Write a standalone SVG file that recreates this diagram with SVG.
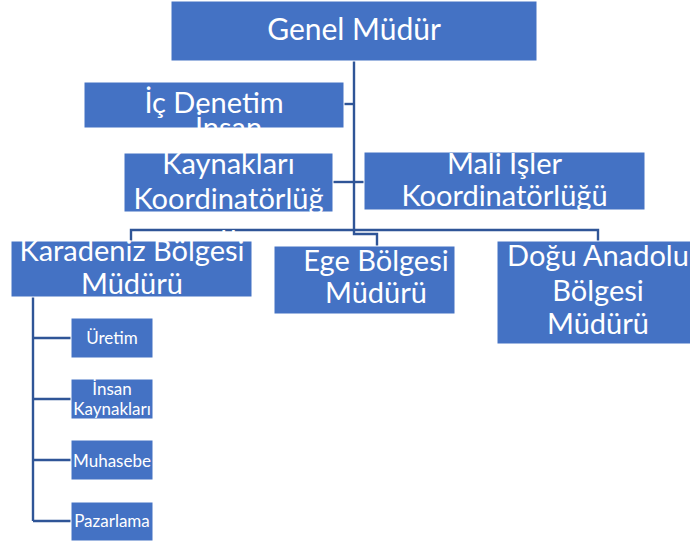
<svg xmlns="http://www.w3.org/2000/svg" width="690" height="544" viewBox="0 0 690 544">
<style>
.box{fill:#4472C4;stroke:#FFFFFF;stroke-width:1}
.t{font-family:Lato,"Open Sans","Noto Sans",sans-serif;fill:#FFFFFF;text-anchor:middle}
.big{font-size:29px}
.top{font-size:30px}
.small{font-size:17px}
.con{fill:none;stroke:#2F5597;stroke-width:2.4}
</style>
<rect x="0" y="0" width="690" height="544" fill="#FFFFFF"/>
<g id="connectors">
<path class="con" d="M354,61 V234 H377 V246"/>
<path class="con" d="M354,104 H344"/>
<path class="con" d="M354,182 H333"/>
<path class="con" d="M354,182 H364"/>
<path class="con" d="M354,230 H131 V241"/>
<path class="con" d="M354,230 H598 V241"/>
<path class="con" d="M33,297 V521"/>
<path class="con" d="M33,338 H71"/>
<path class="con" d="M33,399 H71"/>
<path class="con" d="M33,460 H71"/>
<path class="con" d="M33,521 H71"/>
</g>
<g id="genel-mudur">
<rect class="box" x="171" y="1" width="366" height="60"/>
<text class="t top" x="354" y="40">Genel Müdür</text>
</g>
<g id="ic-denetim">
<rect class="box" x="84" y="82" width="260" height="46"/>
<text class="t big" x="214" y="113">İç Denetim</text>
</g>
<g id="insan-kaynaklari-koord">
<rect class="box" x="124" y="153" width="209" height="59"/>
<text class="t big" x="228.5"><tspan x="228.5" y="138">İnsan</tspan><tspan x="228.5" y="173.5">Kaynakları</tspan><tspan x="228.5" y="209">Koordinatörlüğ</tspan><tspan x="228.5" y="245">ü</tspan></text>
</g>
<g id="mali-isler">
<rect class="box" x="364" y="152" width="281" height="58"/>
<text class="t big" x="504.5"><tspan x="504.5" y="173.5">Mali Işler</tspan><tspan x="504.5" y="205.5">Koordinatörlüğü</tspan></text>
</g>
<g id="karadeniz">
<rect class="box" x="11" y="241" width="241" height="56"/>
<text class="t big" x="132"><tspan x="132" y="260.5">Karadeniz Bölgesi</tspan><tspan x="132" y="293.5">Müdürü</tspan></text>
</g>
<g id="ege">
<rect class="box" x="274" y="246" width="181" height="68"/>
<text class="t big" x="376"><tspan x="376" y="271">Ege Bölgesi</tspan><tspan x="376" y="303">Müdürü</tspan></text>
</g>
<g id="dogu-anadolu">
<rect class="box" x="497" y="241" width="204" height="103"/>
<text class="t big" x="598"><tspan x="598" y="265.5">Doğu Anadolu</tspan><tspan x="598" y="300.5">Bölgesi</tspan><tspan x="598" y="334">Müdürü</tspan></text>
</g>
<g id="uretim">
<rect class="box" x="71" y="318" width="82" height="40"/>
<text class="t small" x="112" y="344">Üretim</text>
</g>
<g id="insan-kaynaklari">
<rect class="box" x="71" y="379" width="82" height="40"/>
<text class="t small" x="112"><tspan x="112" y="395">İnsan</tspan><tspan x="112" y="415">Kaynakları</tspan></text>
</g>
<g id="muhasebe">
<rect class="box" x="71" y="440" width="82" height="40"/>
<text class="t small" x="112" y="466.5">Muhasebe</text>
</g>
<g id="pazarlama">
<rect class="box" x="71" y="502" width="82" height="39"/>
<text class="t small" x="112" y="527">Pazarlama</text>
</g>
</svg>
